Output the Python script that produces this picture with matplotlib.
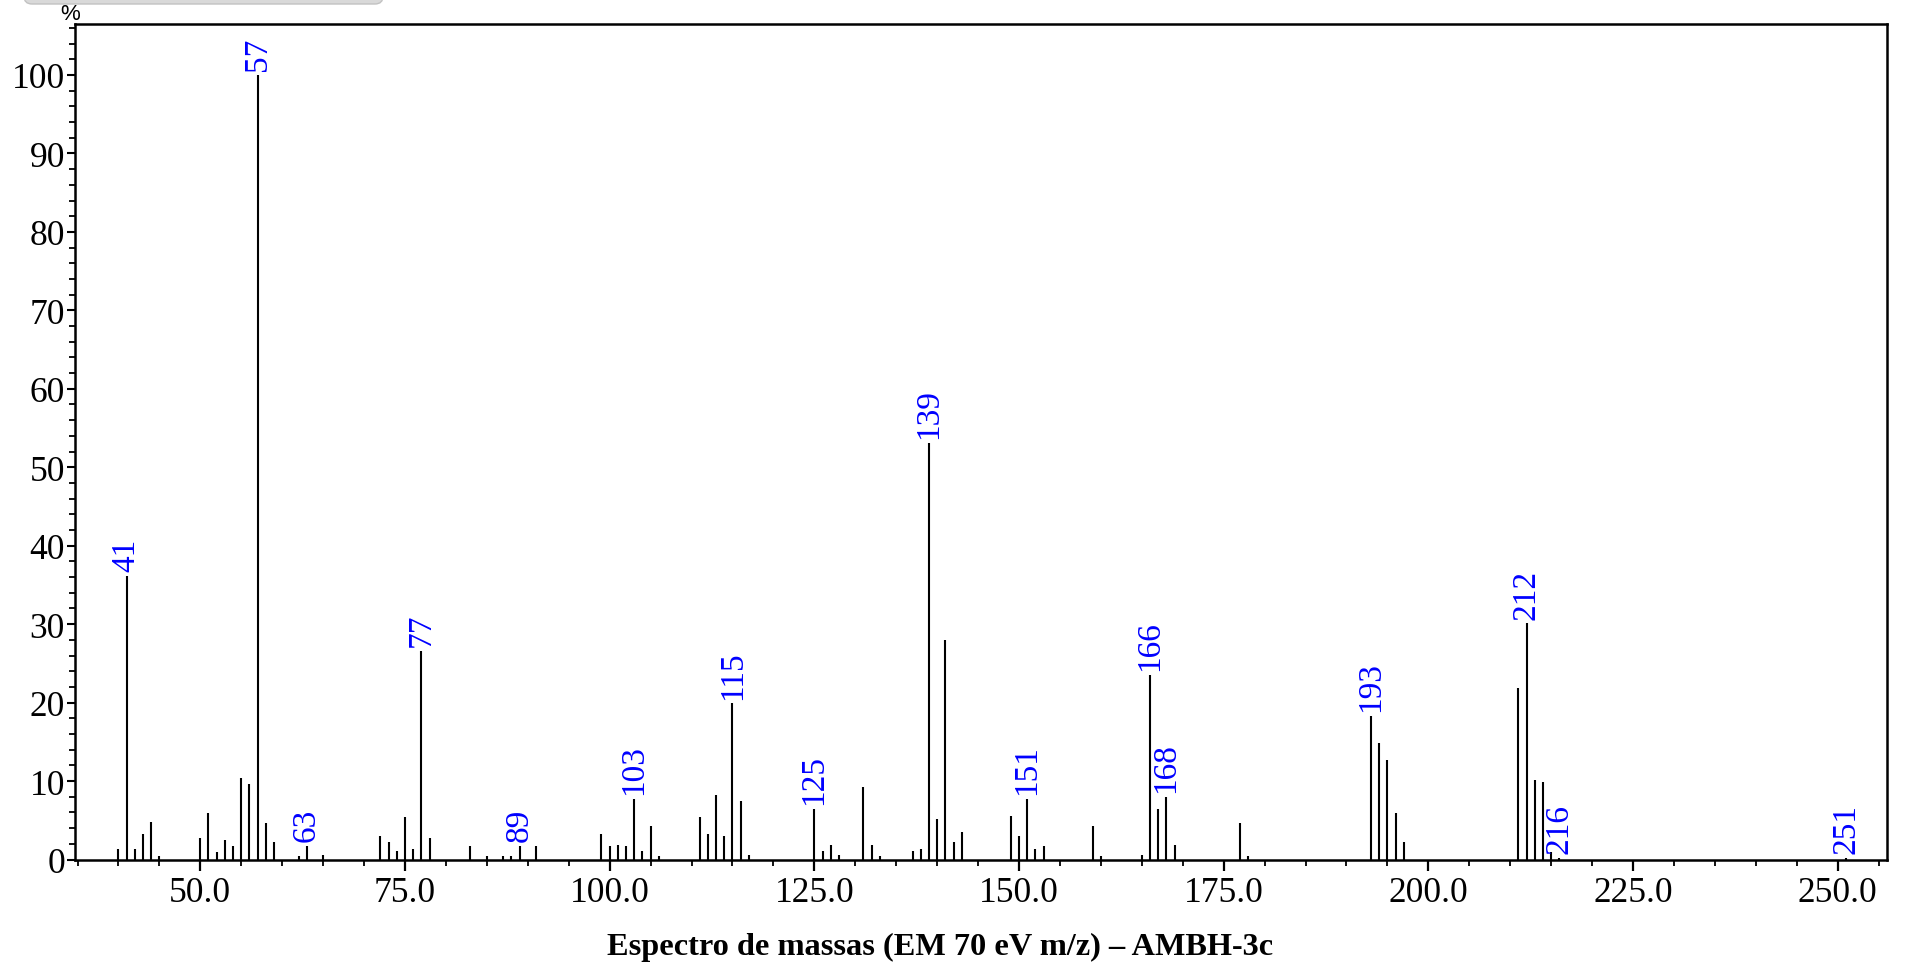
import matplotlib
matplotlib.use("Agg")
import matplotlib.pyplot as plt
from matplotlib.patches import FancyBboxPatch
from matplotlib.transforms import IdentityTransform
from matplotlib.ticker import MultipleLocator, FormatStrFormatter

# ---- data ----
mz = [40, 41, 42, 43, 44, 45, 50, 51, 52, 53, 54, 55, 56, 57, 58, 59, 62, 63, 65,
      72, 73, 74, 75, 76, 77, 78, 83, 85, 87, 88, 89, 91,
      99, 100, 101, 102, 103, 104, 105, 106, 111, 112, 113, 114, 115, 116, 117,
      125, 126, 127, 128, 131, 132, 133, 137, 138, 139, 140, 141, 142, 143,
      149, 150, 151, 152, 153, 159, 160, 165, 166, 167, 168, 169, 177, 178,
      193, 194, 195, 196, 197, 211, 212, 213, 214, 215, 216, 251]
intensity = [1.4, 36.1, 1.4, 3.25, 4.8, 0.4, 2.7, 5.9, 0.9, 2.5, 1.7, 10.35, 9.6, 100.0, 4.6, 2.2, 0.4, 1.7, 0.6,
             3.0, 2.2, 1.1, 5.4, 1.4, 26.6, 2.7, 1.7, 0.4, 0.4, 0.4, 1.7, 1.7,
             3.25, 1.7, 1.9, 1.7, 7.7, 1.1, 4.3, 0.4, 5.4, 3.25, 8.25, 3.0, 19.9, 7.5, 0.6,
             6.45, 1.1, 1.9, 0.6, 9.3, 1.9, 0.4, 1.1, 1.4, 53.1, 5.1, 28.0, 2.2, 3.5,
             5.6, 3.0, 7.7, 1.4, 1.7, 4.3, 0.4, 0.6, 23.5, 6.45, 8.0, 1.9, 4.6, 0.4,
             18.25, 14.85, 12.7, 5.9, 2.2, 21.9, 30.1, 10.1, 9.85, 0.9, 0.2, 0.15]
labelled = [41, 57, 63, 77, 89, 103, 115, 125, 139, 151, 166, 168, 193, 212, 216, 251]
title = "Espectro de massas (EM 70 eV m/z) \u2013 AMBH-3c"

# ---- figure ----
W, H = 1906, 970
fig = plt.figure(figsize=(W / 100, H / 100), dpi=100)
ax = fig.add_axes([74.8 / W, 109.5 / H, (1887.3 - 74.8) / W, (860.5 - 25) / H])

ax.vlines(mz, 0, intensity, colors="black", linewidth=1.5)

lookup = dict(zip(mz, intensity))
for m in labelled:
    ax.annotate(str(m), xy=(m, lookup[m]), xytext=(0, 3.5), textcoords="offset points",
                rotation=90, ha="center", va="bottom", color="#0000ff",
                fontsize=24, family="Liberation Serif")

ax.set_xlim(34.67, 256.06)
ax.set_ylim(0, 106.5)

ax.xaxis.set_major_locator(MultipleLocator(25))
ax.xaxis.set_minor_locator(MultipleLocator(5))
ax.xaxis.set_major_formatter(FormatStrFormatter("%.1f"))
ax.yaxis.set_major_locator(MultipleLocator(10))
ax.yaxis.set_minor_locator(MultipleLocator(2))

ax.tick_params(axis="x", which="major", length=8, width=1.6, direction="out", pad=4)
ax.tick_params(axis="x", which="minor", length=4, width=1.3, direction="out")
ax.tick_params(axis="y", which="major", length=6, width=1.5, direction="out", pad=1)
ax.tick_params(axis="y", which="minor", length=4.5, width=1.3, direction="out")
for lab in ax.get_xticklabels() + ax.get_yticklabels():
    lab.set_fontfamily("Liberation Serif")
    lab.set_fontsize(25.5)

for s in ax.spines.values():
    s.set_linewidth(1.8)
    s.set_color("black")

# percent label
fig.text(70 / W, 1 - 15 / H, "%", ha="center", va="center", fontsize=16,
         family="Liberation Sans")

# title
fig.text(940 / W, 1 - 947 / H, title, ha="center", va="center", fontsize=23.3,
         fontweight="bold", family="Liberation Serif")

# partially visible grey bar at top-left
bar = FancyBboxPatch((24, H - 5), 359, 30, boxstyle="round,pad=0,rounding_size=8",
                     transform=IdentityTransform(), facecolor="#d9d9d9",
                     edgecolor="#c2c2c2", linewidth=1.0)
fig.add_artist(bar)

fig.savefig("out.png", dpi=100)
